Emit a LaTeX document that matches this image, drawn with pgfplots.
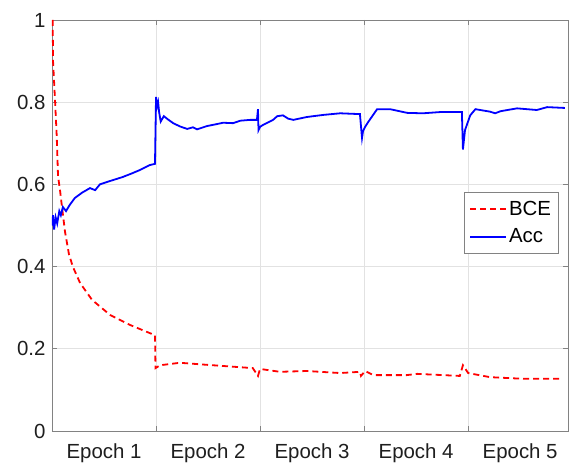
\documentclass[border=0pt]{standalone}
\usepackage{fontspec}
\setmainfont{Liberation Sans}
\usepackage{pgfplots}
\pgfplotsset{compat=1.18}
\definecolor{axgray}{RGB}{130,130,130}
\definecolor{txtgray}{RGB}{30,30,30}
\definecolor{gridgray}{RGB}{226,226,226}
\begin{document}
\begin{tikzpicture}
\begin{axis}[
 scale only axis, width=516bp, height=411bp,
 xmin=0, xmax=4.96, ymin=0, ymax=1,
 axis line style={axgray, line width=0.8bp},
 every tick/.style={axgray, line width=0.7bp},
 xtick={0.5,1.5,2.5,3.5,4.5},
 xticklabels={Epoch 1,Epoch 2,Epoch 3,Epoch 4,Epoch 5},
 major x tick style={draw=none},
 minor xtick={1,2,3,4},
 xminorgrids=true, ymajorgrids=true,
 ytick={0,0.2,0.4,0.6,0.8,1},
 yticklabels={0,0.2,0.4,0.6,0.8,1},
 tick align=inside,
 major tick length=5bp, minor tick length=5bp,
 grid style={gridgray, line width=0.7bp},
 minor grid style={gridgray, line width=0.7bp},
 tick label style={font=\fontsize{20.5}{23}\selectfont, text=txtgray},
 xticklabel style={yshift=-9bp},
 yticklabel style={xshift=-3bp},
 legend style={at={(0.981,0.5815)}, anchor=north east, draw=axgray,
   font=\fontsize{20.5}{23}\selectfont, text=black, inner xsep=5bp, inner ysep=7bp,
   row sep=8bp},
 legend cell align=left,
 legend image code/.code={\draw[#1, line width=1.8bp] (0bp,0bp) -- (36bp,0bp);},
]
\addplot[red, line width=1.8bp, dash pattern=on 6bp off 4bp] coordinates {
(0.007,1.0) (0.01,0.90) (0.03,0.80) (0.045,0.72) (0.058,0.62) (0.077,0.586)
(0.096,0.545) (0.125,0.485) (0.163,0.43) (0.20,0.40) (0.27,0.36) (0.385,0.319)
(0.56,0.282) (0.75,0.258) (0.99,0.233) (0.995,0.153) (1.04,0.16) (1.23,0.166)
(1.49,0.161) (1.71,0.157) (1.93,0.153) (1.98,0.134) (2.0,0.151) (2.19,0.144)
(2.45,0.146) (2.77,0.141) (2.96,0.144) (2.97,0.134) (3.01,0.146) (3.09,0.136)
(3.41,0.136) (3.51,0.139) (3.92,0.134) (3.95,0.16) (4.0,0.141) (4.21,0.131)
(4.53,0.127) (4.90,0.127)
};
\addlegendentry{BCE}
\addplot[blue, line width=1.8bp] coordinates {
(0,0.50) (0.01,0.525) (0.02,0.49) (0.035,0.52) (0.05,0.505) (0.07,0.535)
(0.085,0.525) (0.105,0.545) (0.135,0.535) (0.17,0.55) (0.22,0.567) (0.29,0.58)
(0.365,0.591) (0.415,0.586) (0.46,0.60) (0.53,0.606) (0.605,0.612) (0.68,0.618)
(0.77,0.627) (0.845,0.635) (0.94,0.647) (0.99,0.65) (1.0,0.813) (1.01,0.79)
(1.02,0.80) (1.03,0.775) (1.045,0.753) (1.075,0.766) (1.115,0.758) (1.165,0.749)
(1.23,0.741) (1.30,0.735) (1.355,0.739) (1.395,0.734) (1.49,0.742) (1.57,0.746)
(1.645,0.75) (1.74,0.749) (1.81,0.755) (1.905,0.757) (1.97,0.757) (1.98,0.783)
(1.985,0.732) (2.0,0.74) (2.03,0.745) (2.125,0.757) (2.165,0.766) (2.22,0.768)
(2.27,0.76) (2.32,0.757) (2.45,0.764) (2.605,0.769) (2.77,0.773) (2.96,0.771)
(2.98,0.713) (2.99,0.73) (3.01,0.74) (3.04,0.752) (3.125,0.783) (3.25,0.783)
(3.415,0.774) (3.565,0.773) (3.73,0.776) (3.94,0.776) (3.95,0.685) (3.97,0.732)
(4.02,0.768) (4.07,0.783) (4.21,0.777) (4.26,0.773) (4.31,0.778) (4.47,0.785)
(4.66,0.781) (4.76,0.788) (4.93,0.786)
};
\addlegendentry{Acc}
\end{axis}
\pgfresetboundingbox
\path ([xshift=-52bp,yshift=-35bp]current axis.south west) rectangle ([xshift=3bp,yshift=20bp]current axis.north east);
\end{tikzpicture}
\end{document}
